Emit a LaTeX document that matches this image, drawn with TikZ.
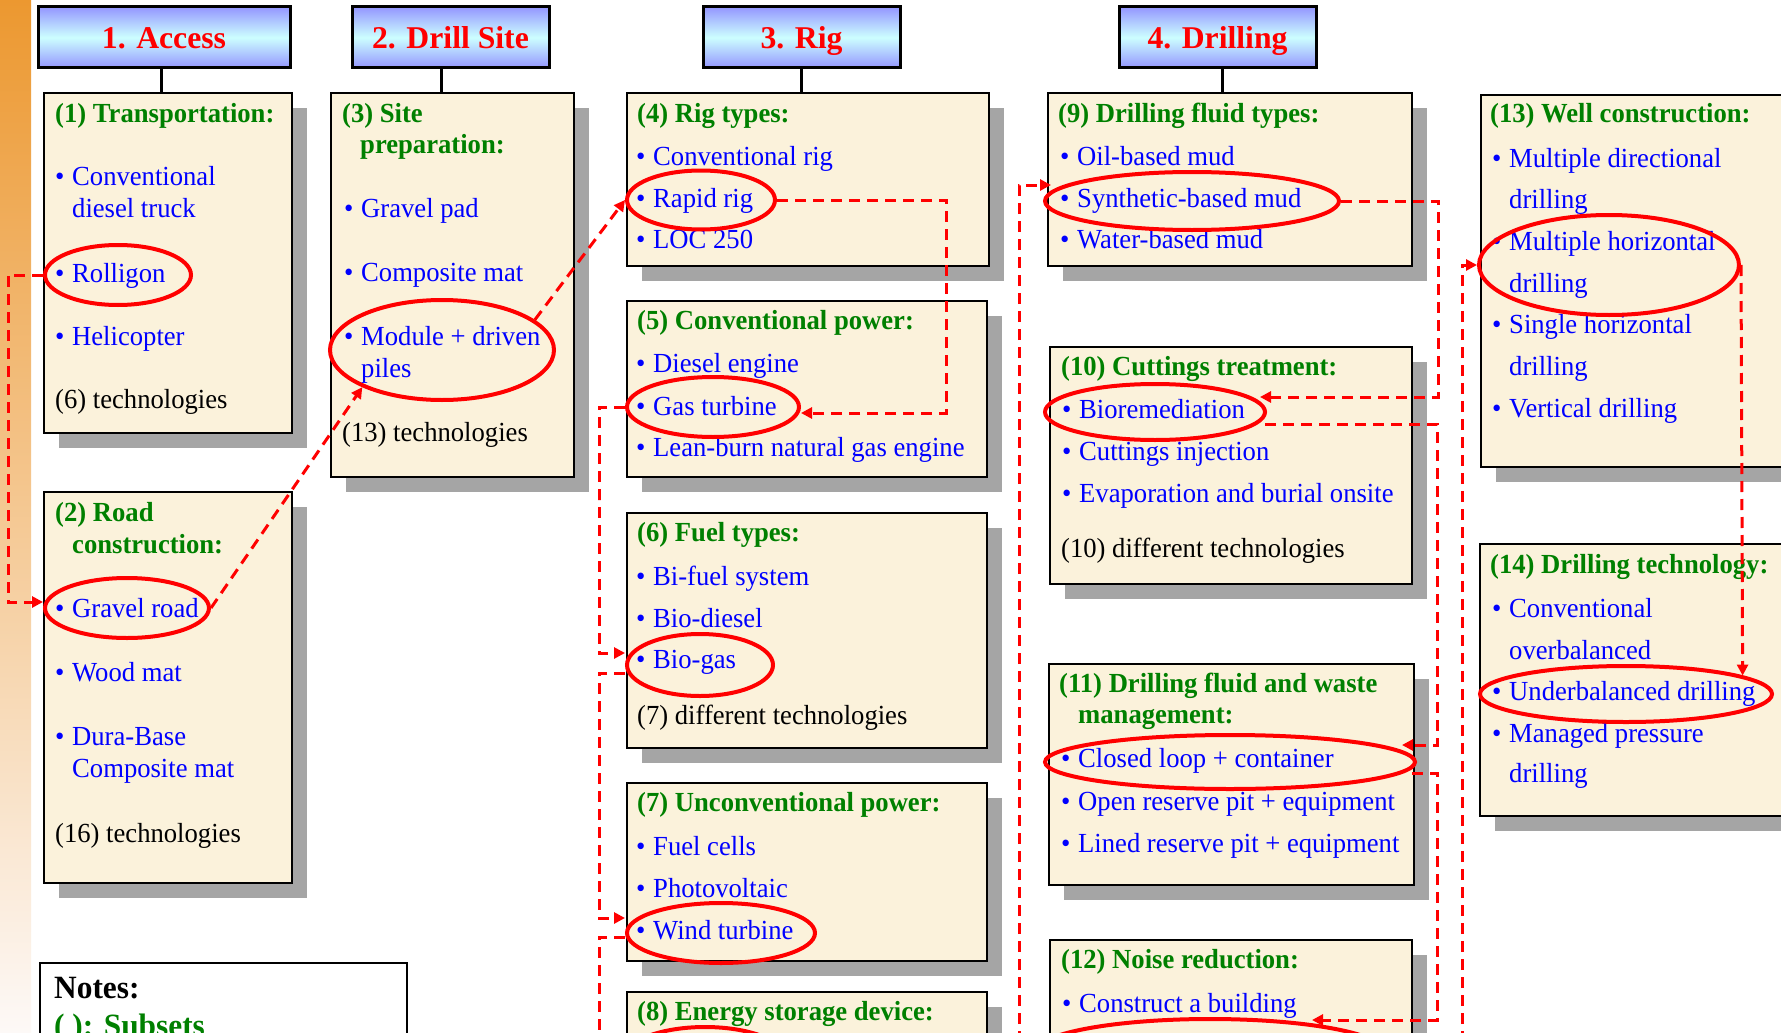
\documentclass[tikz,border=0pt]{standalone}
\usepackage{fontspec}
\setmainfont{Liberation Serif}[FakeStretch=0.965]
\newfontfamily\ttlfont{Liberation Serif}
\usetikzlibrary{shapes.geometric,arrows.meta,fit,shadows,calc}
\definecolor{parch}{RGB}{251,242,219}
\definecolor{shad}{RGB}{165,165,165}
\definecolor{hgreen}{RGB}{0,128,0}
\definecolor{iblue}{RGB}{0,0,255}
\definecolor{tred}{RGB}{255,0,0}
\definecolor{tblue}{RGB}{148,150,255}
\definecolor{tcyan}{RGB}{205,255,255}
\definecolor{sTop}{RGB}{236,152,48}
\definecolor{sMid}{RGB}{243,200,165}
\definecolor{sBot}{RGB}{253,249,247}
\newcommand\bodyfs{\fontsize{27.6}{30}\selectfont}
\newcommand\notefs{\fontsize{32.5}{36}\selectfont}
\newcommand\bul{\makebox[17pt][l]{\textbullet}}
\begin{document}
\begin{tikzpicture}[x=1pt,y=-1pt,
  bx/.style={draw=black, line width=2.5pt, fill=parch, inner sep=0pt,
    drop shadow={opacity=1, fill=shad, shadow xshift=15pt, shadow yshift=-15pt}},
  ttl/.style={draw=black, line width=3pt, top color=tblue, bottom color=tblue, middle color=tcyan,
    inner sep=0pt, text=tred, font={\ttlfont\bfseries\fontsize{31.7}{34}\selectfont},
    text height=23pt, text depth=0pt, minimum height=61pt},
  stem/.style={draw=black, line width=3pt},
  tx/.style={inner sep=0pt, anchor=base west, font=\bodyfs},
  hd/.style={tx, text=hgreen, font=\bodyfs\bfseries},
  it/.style={tx, text=iblue},
  nt/.style={tx, text=black},
  el/.style={ellipse, draw=tred, line width=4pt, inner sep=0pt},
  cn/.style={draw=tred, line width=3pt, dash pattern=on 11pt off 7pt},
  cna/.style={cn, -{Triangle[length=11pt,width=11pt]}}
]
\path[use as bounding box] (0,0) rectangle (1781,1033);
\clip (0,0) rectangle (1781,1033);
\fill[white] (0,0) rectangle (1781,1033);
\shade[top color=sTop, middle color=sMid, bottom color=sBot] (0,0) rectangle (31,1033);

% titles
\node[ttl, minimum width=252pt] (t1) at (164,37.5) {1. Access};
\node[ttl, minimum width=197pt] (t2) at (450.5,37.5) {2. Drill Site};
\node[ttl, minimum width=197pt] (t3) at (801.5,37.5) {3. Rig};
\node[ttl, minimum width=197pt] (t4) at (1217.5,37.5) {4. Drilling};

% boxes
\node[bx, fit={(44,93) (292,433)}] (b1) {};
\node[bx, fit={(331,93) (574,477)}] (b3) {};
\node[bx, fit={(44,492) (292,883)}] (b2) {};
\node[draw=black, line width=2.5pt, fill=white, inner sep=0pt, fit={(40,963) (407,1120)}] (bn) {};
\node[bx, fit={(627,93) (989,266)}] (b4) {};
\node[bx, fit={(627,301) (987,477)}] (b5) {};
\node[bx, fit={(627,513) (987,748)}] (b6) {};
\node[bx, fit={(627,783) (987,961)}] (b7) {};
\node[bx, fit={(627,992) (987,1120)}] (b8) {};
\node[bx, fit={(1048,93) (1412,266)}] (b9) {};
\node[bx, fit={(1050,347) (1412,584)}] (b10) {};
\node[bx, fit={(1049,664) (1414,885)}] (b11) {};
\node[bx, fit={(1050,940) (1412,1120)}] (b12) {};
\node[bx, fit={(1481,95) (1810,467)}] (b13) {};
\node[bx, fit={(1480,544) (1810,816)}] (b14) {};

% stems
\draw[stem] ([xshift=-3pt]t1.south) -- ([xshift=-3pt]t1.south |- b1.north);
\draw[stem] ([xshift=-9.5pt]t2.south) -- ([xshift=-9.5pt]t2.south |- b3.north);
\draw[stem] (t3.south) -- (t3.south |- b4.north);
\draw[stem] ([xshift=4.5pt]t4.south) -- ([xshift=4.5pt]t4.south |- b9.north);

% box 1
\node[hd] (h1) at (55,122) {(1) Transportation:};
\node[it] (i1a) at (55,185) {\bul Conventional};
\node[it] (i1a2) at (72,217) {diesel truck};
\node[it] (i1b) at (55,282) {\bul Rolligon};
\node[it] (i1c) at (55,345) {\bul Helicopter};
\node[nt] (n1) at (55,408) {(6) technologies};
% box 2
\node[hd] (h2) at (55,521) {(2) Road};
\node[hd] (h2b) at (72,553) {construction:};
\node[it] (i2a) at (55,617) {\bul Gravel road};
\node[it] (i2b) at (55,681) {\bul Wood mat};
\node[it] (i2c) at (55,745) {\bul Dura-Base};
\node[it] (i2c2) at (72,777) {Composite mat};
\node[nt] (n2) at (55,842) {(16) technologies};
% box 3
\node[hd] (h3) at (342,122) {(3) Site};
\node[hd] (h3b) at (360,153) {preparation:};
\node[it] (i3a) at (344,217) {\bul Gravel pad};
\node[it] (i3b) at (344,281) {\bul Composite mat};
\node[it] (i3c) at (344,345) {\bul Module + driven};
\node[it] (i3c2) at (361,377) {piles};
\node[nt] (n3) at (342,441) {(13) technologies};
% box 4
\node[hd] (h4) at (637,122) {(4) Rig types:};
\node[it] (i4a) at (636,165) {\bul Conventional rig};
\node[it] (i4b) at (636,207) {\bul Rapid rig};
\node[it] (i4c) at (636,248) {\bul LOC 250};
% box 5
\node[hd] (h5) at (637,329) {(5) Conventional power:};
\node[it] (i5a) at (636,372) {\bul Diesel engine};
\node[it] (i5b) at (636,415) {\bul Gas turbine};
\node[it] (i5c) at (636,456) {\bul Lean-burn natural gas engine};
% box 6
\node[hd] (h6) at (637,541) {(6) Fuel types:};
\node[it] (i6a) at (636,585) {\bul Bi-fuel system};
\node[it] (i6b) at (636,627) {\bul Bio-diesel};
\node[it] (i6c) at (636,668) {\bul Bio-gas};
\node[nt] (n6) at (637,724) {(7) different technologies};
% box 7
\node[hd] (h7) at (637,811) {(7) Unconventional power:};
\node[it] (i7a) at (636,855) {\bul Fuel cells};
\node[it] (i7b) at (636,897) {\bul Photovoltaic};
\node[it] (i7c) at (636,939) {\bul Wind turbine};
% box 8
\node[hd] (h8) at (637,1020) {(8) Energy storage device:};
% box 9
\node[hd] (h9) at (1058,122) {(9) Drilling fluid types:};
\node[it] (i9a) at (1060,165) {\bul Oil-based mud};
\node[it] (i9b) at (1060,207) {\bul Synthetic-based mud};
\node[it] (i9c) at (1060,248) {\bul Water-based mud};
% box 10
\node[hd] (h10) at (1061,375) {(10) Cuttings treatment:};
\node[it] (i10a) at (1062,418) {\bul Bioremediation};
\node[it] (i10b) at (1062,460) {\bul Cuttings injection};
\node[it] (i10c) at (1062,502) {\bul Evaporation and burial onsite};
\node[nt] (n10) at (1061,557) {(10) different technologies};
% box 11
\node[hd] (h11) at (1059,692) {(11) Drilling fluid and waste};
\node[hd] (h11b) at (1078,723) {management:};
\node[it] (i11a) at (1061,767) {\bul Closed loop + container};
\node[it] (i11b) at (1061,810) {\bul Open reserve pit + equipment};
\node[it] (i11c) at (1061,852) {\bul Lined reserve pit + equipment};
% box 12
\node[hd] (h12) at (1061,968) {(12) Noise reduction:};
\node[it] (i12a) at (1062,1012) {\bul Construct a building};
% box 13
\node[hd] (h13) at (1490,122) {(13) Well construction:};
\node[it] (i13a) at (1492,167) {\bul Multiple directional};
\node[it] (i13a2) at (1509,208) {drilling};
\node[it] (i13b) at (1492,250) {\bul Multiple horizontal};
\node[it] (i13b2) at (1509,292) {drilling};
\node[it] (i13c) at (1492,333) {\bul Single horizontal};
\node[it] (i13c2) at (1509,375) {drilling};
\node[it] (i13d) at (1492,417) {\bul Vertical drilling};
% box 14
\node[hd] (h14) at (1490,573) {(14) Drilling technology:};
\node[it] (i14a) at (1492,617) {\bul Conventional};
\node[it] (i14a2) at (1509,659) {overbalanced};
\node[it] (i14b) at (1492,700) {\bul Underbalanced drilling};
\node[it] (i14c) at (1492,742) {\bul Managed pressure};
\node[it] (i14c2) at (1509,782) {drilling};
% notes
\node[tx, font=\notefs\bfseries] (nn) at (54,998) {Notes:};
\node[tx, font=\notefs\bfseries, text=hgreen] (ns) at (54,1036) {( ): Subsets};

% ellipses
\node[el, minimum width=146pt, minimum height=60pt] (e1) at (118,275) {};
\node[el, minimum width=164pt, minimum height=60pt] (e2) at (127,608) {};
\node[el, minimum width=224pt, minimum height=100pt] (e3) at (442,350) {};
\node[el, minimum width=148pt, minimum height=59pt] (e4) at (701,200) {};
\node[el, minimum width=172pt, minimum height=60pt] (e5) at (713,407) {};
\node[el, minimum width=146pt, minimum height=62pt] (e6) at (700,665) {};
\node[el, minimum width=188pt, minimum height=60pt] (e7) at (721,933) {};
\node[el, minimum width=170pt, minimum height=70pt] (e8) at (705,1062) {};
\node[el, minimum width=294pt, minimum height=58pt] (e9) at (1192,201) {};
\node[el, minimum width=220pt, minimum height=56pt] (e10) at (1155,412) {};
\node[el, minimum width=370pt, minimum height=54pt] (e11) at (1230,762) {};
\node[el, minimum width=350pt, minimum height=66pt] (e12) at (1210,1052) {};
\node[el, minimum width=260pt, minimum height=100pt] (e13) at (1609,265) {};
\node[el, minimum width=292pt, minimum height=56pt] (e14) at (1626,694) {};

% connector helper coordinates
\coordinate (k1) at (8,440);
\coordinate (k4) at (946,300);
\coordinate (k5) at (599,500);
\coordinate (k6) at (599,800);
\coordinate (k7) at (599,1060);
\coordinate (k7b) at (1019,1060);
\coordinate (k8) at (1438,300);
\coordinate (k9) at (1437,600);
\coordinate (k10) at (1437,900);
\coordinate (k10b) at (1312,1020);
\coordinate (k11) at (1462,1060);

% connectors
\draw[cna] (e1.west) -| (k1) |- ($(e2.west)+(0,-6)$);
\draw[cna] (e2.east) -- (e3.205);
\draw[cna] (e3.18) -- (e4.west);
\draw[cna] (e4.east) -| (k4) |- ($(e5.east)+(0,6)$);
\draw[cna] (e5.west) -| (k5) |- ($(e6.west)+(0,-12)$);
\draw[cna] ($(e6.west)+(0,8)$) -| (k6) |- ($(e7.west)+(0,-15)$);
\draw[cn] ($(e7.west)+(0,4)$) -| (k7);
\draw[cna] (k7b) |- ($(e9.west)+(8,-16)$);
\draw[cna] (e9.east) -| (k8) |- ($(e10.east)+(-7,-15)$);
\draw[cna] ($(e10.east)+(-2,12)$) -| (k9) |- ($(e11.east)+(-15,-17)$);
\draw[cna] ($(e11.east)+(-5,11)$) -| (k10) |- (k10b);
\draw[cna] (k11) |- (e13.west);
\draw[cna] (e13.east) -- (e14.9);
\end{tikzpicture}
\end{document}
